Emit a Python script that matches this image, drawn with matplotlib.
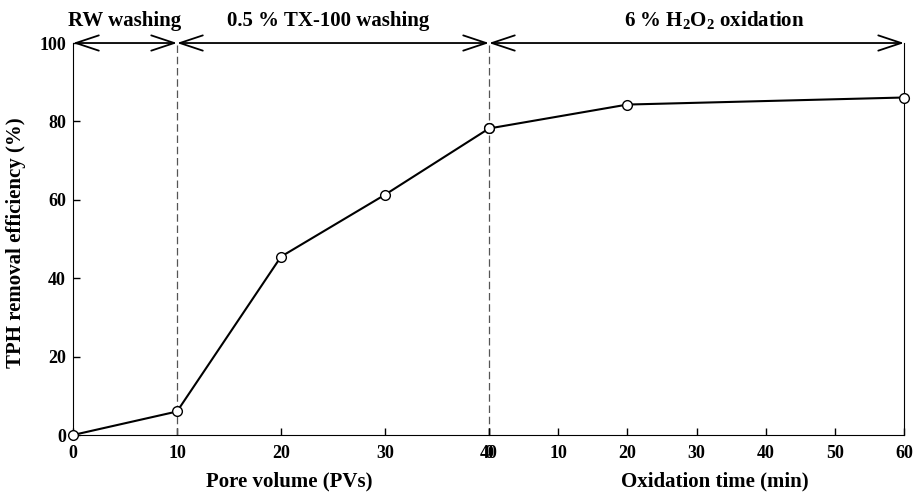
import matplotlib.pyplot as plt

plt.rcParams['font.family'] = ['Liberation Serif', 'DejaVu Serif']
plt.rcParams['font.weight'] = 'bold'
plt.rcParams['axes.labelweight'] = 'bold'
plt.rcParams['mathtext.fontset'] = 'custom'
plt.rcParams['mathtext.rm'] = 'Liberation Serif:bold'
plt.rcParams['mathtext.it'] = 'Liberation Serif:bold'
plt.rcParams['mathtext.bf'] = 'Liberation Serif:bold'

# washing stage (pore volumes)
pv = [0, 10, 20, 30, 40]
pv_eff = [0, 6, 45.5, 61.3, 78.2]
# oxidation stage (minutes)
ox_t = [0, 20, 60]
ox_eff = [78.2, 84.3, 86.1]

pv_ticks = [0, 10, 20, 30, 40]
ox_ticks = [0, 10, 20, 30, 40, 50, 60]
y_ticks = [0, 20, 40, 60, 80, 100]

fig = plt.figure(figsize=(9.13, 4.95), dpi=100)
ax1 = fig.add_axes([0.080, 0.1212, 0.4556, 0.7919])
ax2 = fig.add_axes([0.5356, 0.1212, 0.4546, 0.7919])

mk = dict(color='black', lw=1.5, marker='o', ms=7, mfc='white', mec='black',
          mew=1, clip_on=False, zorder=5)
ax1.plot(pv, pv_eff, **mk)
ax2.plot(ox_t, ox_eff, **mk)

for ax in (ax1, ax2):
    ax.set_ylim(0, 100)
    ax.spines['top'].set_visible(False)
    ax.tick_params(direction='in', length=5, labelsize=13, width=1)
    ax.tick_params(axis='x', pad=7)
    ax.patch.set_visible(False)

ax1.set_xlim(0, 40)
ax1.set_xticks(pv_ticks)
ax1.set_yticks(y_ticks)
ax1.spines['right'].set_visible(False)
ax1.tick_params(axis='y', pad=5)
for xv in (10, 40):
    ax1.axvline(xv, color='#555555', ls=(0, (6, 3)), lw=0.9, clip_on=False)

ax2.set_xlim(0, 60)
ax2.set_xticks(ox_ticks)
ax2.set_yticks([])
ax2.spines['left'].set_visible(False)

ax1.set_xlabel('Pore volume (PVs)', fontsize=15)
ax1.xaxis.set_label_coords(0.52, -0.092)
ax2.set_xlabel('Oxidation time (min)', fontsize=15)
ax2.xaxis.set_label_coords(0.545, -0.092)
ax1.set_ylabel('TPH removal efficiency (%)', fontsize=15)
ax1.yaxis.set_label_coords(-0.113, 0.49)

# stage arrows along the top
arr = dict(arrowstyle='<->,head_length=1.5,head_width=0.5', color='black',
           lw=1.3, shrinkA=0, shrinkB=0, mutation_scale=11)
ax1.annotate('', xy=(0, 100), xytext=(10, 100), xycoords='data',
             arrowprops=arr, annotation_clip=False)
ax1.annotate('', xy=(10, 100), xytext=(40, 100), xycoords='data',
             arrowprops=arr, annotation_clip=False)
ax2.annotate('', xy=(0, 100), xytext=(60, 100), xycoords='data',
             arrowprops=arr, annotation_clip=False)

ax1.text(5, 103, 'RW washing', ha='center', va='bottom', fontsize=15)
ax1.text(24.5, 103, '0.5 % TX-100 washing', ha='center', va='bottom', fontsize=15)
ax2.text(32.5, 103, '6 % H$_2$O$_2$ oxidation', ha='center', va='bottom', fontsize=15)

fig.savefig('out.png', dpi=100)
